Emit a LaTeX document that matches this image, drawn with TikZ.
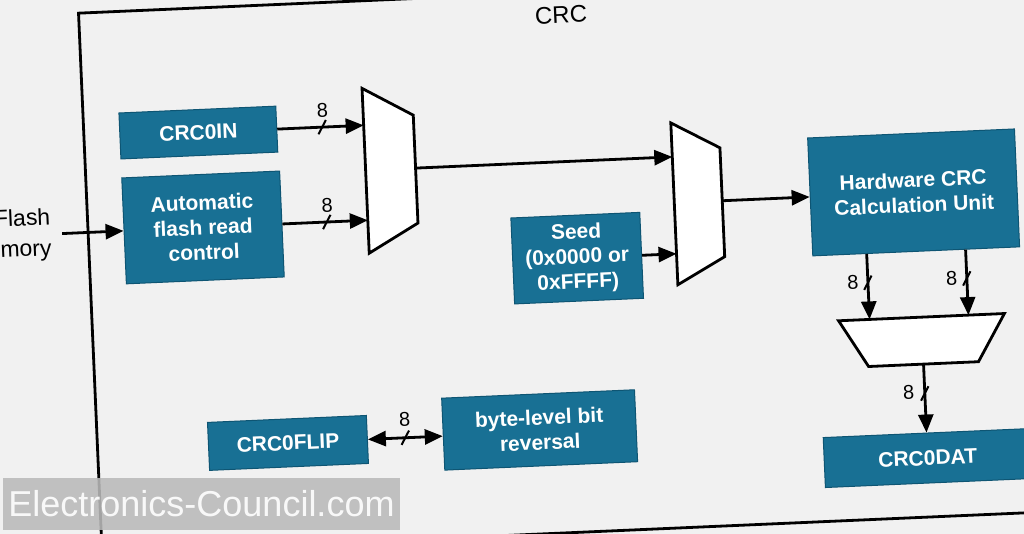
\documentclass[tikz,border=0pt]{standalone}
\usepackage{fontspec}
\setmainfont{Liberation Sans}
\usetikzlibrary{arrows.meta}
\definecolor{boxblue}{HTML}{187094}
\definecolor{boxedge}{HTML}{0E5573}
\definecolor{bg}{HTML}{F1F1F1}
\begin{document}
\begin{tikzpicture}[x=1pt,y=-1pt,
  blk/.style={draw=boxedge, line width=1pt, fill=boxblue, text=white,
    font=\fontsize{21}{25}\selectfont\bfseries, align=center, inner sep=0pt},
  conn/.style={line width=2.8pt, -{Triangle[length=18pt,width=15pt]}},
  dconn/.style={line width=2.8pt, {Triangle[length=18pt,width=15pt]}-{Triangle[length=18pt,width=15pt]}},
  lbl/.style={font=\fontsize{20}{20}\selectfont, inner sep=0pt},
  slash/.style={line width=2pt},
  muxs/.style={draw=black, line width=2.8pt, fill=white, line join=miter},
  framel/.style={draw=black, line width=2.8pt}]
\useasboundingbox (0,0) rectangle (1024,534);
\fill[bg] (0,0) rectangle (1024,534);
\begin{scope}
\clip (0,0) rectangle (1024,534);
\begin{scope}[rotate around={2.5:(512,267)}, transform shape]
  % frame
  \draw[framel] (90,-5.5) rectangle (1090,535);
  \node[font=\fontsize{24}{24}\selectfont] (title) at (572,17) {CRC};
  % blocks
  \node[blk, minimum width=157pt, minimum height=46pt] (crcin) at (204.5,119) {CRC0IN};
  \node[blk, minimum width=158pt, minimum height=106pt] (autof) at (205,214) {Automatic\\flash read\\control};
  \node[blk, minimum width=129pt, minimum height=86pt] (seed) at (577.5,261) {Seed\\(0x0000 or\\0xFFFF)};
  \node[blk, minimum width=207pt, minimum height=118pt] (hw) at (916.5,210) {Hardware CRC\\Calculation Unit};
  \node[blk, minimum width=207pt, minimum height=50pt] (dat) at (919,476) {CRC0DAT};
  \node[blk, minimum width=159pt, minimum height=48pt] (flip) at (280.5,433) {CRC0FLIP};
  \node[blk, minimum width=193pt, minimum height=72pt] (rev) at (532.5,431) {byte-level bit\\reversal};
  \node[anchor=east, align=right, font=\fontsize{23}{31}\selectfont, inner sep=0pt] (flash) at (53,214) {Flash\\Memory};
  % mux 1
  \coordinate (m1a) at (370,82);  \coordinate (m1b) at (420,111);
  \coordinate (m1c) at (420,219); \coordinate (m1d) at (370,247);
  \draw[muxs] (m1a) -- (m1b) -- (m1c) -- (m1d) -- cycle;
  \coordinate (m1in1) at (370,119); \coordinate (m1in2) at (370,214);
  \coordinate (m1out) at (420,164);
  % mux 2
  \coordinate (m2a) at (677,130);  \coordinate (m2b) at (725,157);
  \coordinate (m2c) at (725,266);  \coordinate (m2d) at (677,292);
  \draw[muxs] (m2a) -- (m2b) -- (m2c) -- (m2d) -- cycle;
  \coordinate (m2in1) at (677,164); \coordinate (m2in2) at (677,261);
  \coordinate (m2out) at (725,210);
  % mux 3
  \coordinate (m3a) at (836,335);  \coordinate (m3b) at (1002,335);
  \coordinate (m3c) at (974,382);  \coordinate (m3d) at (864,382);
  \draw[muxs] (m3a) -- (m3b) -- (m3c) -- (m3d) -- cycle;
  \coordinate (m3in1) at (867,335); \coordinate (m3in2) at (966,335);
  \coordinate (m3out) at (919,382);
  % connectors
  \draw[conn] ([xshift=11pt]flash.east) -- (autof.west);
  \draw[conn] (crcin.east) -- coordinate[pos=0.52] (s1) (m1in1);
  \draw[conn] (autof.east) -- coordinate[pos=0.52] (s2) (m1in2);
  \draw[conn] (m1out) -- (m2in1);
  \draw[conn] (seed.east) -- (m2in2);
  \draw[conn] (m2out) -- (hw.west |- m2out);
  \draw[conn] (hw.south -| m3in1) -- coordinate[pos=0.44] (s3) (m3in1);
  \draw[conn] (hw.south -| m3in2) -- coordinate[pos=0.44] (s4) (m3in2);
  \draw[conn] (m3out) -- coordinate[pos=0.43] (s5) (dat.north -| m3out);
  \draw[dconn] (flip.east) -- coordinate[pos=0.5] (s6) (rev.west |- flip.east);
  % bus marks
  \foreach \s in {s1,s2,s3,s4,s5,s6}
    \draw[slash] ([shift={(-4,7)}]\s) -- ([shift={(4,-7)}]\s);
  \node[lbl] (l1) at ([shift={(1,-17)}]s1) {8};
  \node[lbl] (l2) at ([shift={(1,-17)}]s2) {8};
  \node[lbl] (l3) at ([shift={(-15,-1)}]s3) {8};
  \node[lbl] (l4) at ([shift={(-15,-1)}]s4) {8};
  \node[lbl] (l5) at ([shift={(-16,-2)}]s5) {8};
  \node[lbl] (l6) at ([shift={(0,-18)}]s6) {8};
\end{scope}
\end{scope}
\node[fill=black!27, fill opacity=0.88, text opacity=0.9, text=white,
  font=\fontsize{36}{36}\selectfont, minimum width=397pt, minimum height=52pt,
  inner sep=0pt] (wm) at (201.5,504) {Electronics-Council.com};
\end{tikzpicture}
\end{document}
